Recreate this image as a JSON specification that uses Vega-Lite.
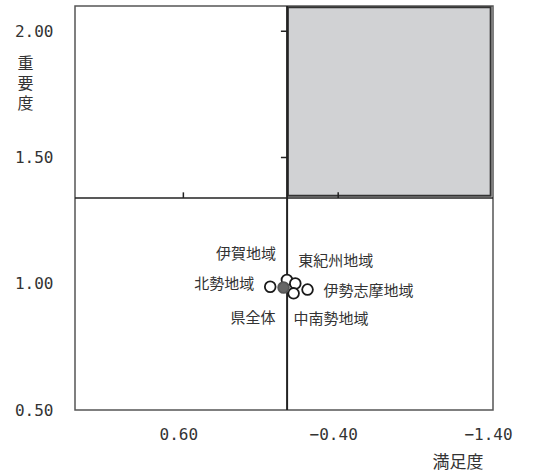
{
  "$schema": "https://vega.github.io/schema/vega-lite/v6.json",
  "width": 418,
  "height": 404,
  "autosize": {"type": "none"},
  "padding": {"left": 75, "top": 6, "right": 64, "bottom": 63},
  "background": "white",
  "config": {
    "view": {"stroke": "#555", "strokeWidth": 1.5},
    "font": "Noto Sans CJK JP"
  },
  "datasets": {
    "pts": [
      {"name": "北勢地域", "sat": 0.039, "imp": 0.988, "kind": "region"},
      {"name": "伊賀地域", "sat": -0.069, "imp": 1.015, "kind": "region"},
      {"name": "東紀州地域", "sat": -0.123, "imp": 1.001, "kind": "region"},
      {"name": "中南勢地域", "sat": -0.112, "imp": 0.962, "kind": "region"},
      {"name": "伊勢志摩地域", "sat": -0.202, "imp": 0.977, "kind": "region"},
      {"name": "県全体", "sat": -0.047, "imp": 0.985, "kind": "total"}
    ]
  },
  "layer": [
    {
      "data": {"values": [{"x1": -0.075, "x2": -1.385, "y1": 1.349, "y2": 2.095}]},
      "mark": {"type": "rect", "fill": "#d1d2d4", "stroke": "#333", "strokeWidth": 2},
      "encoding": {
        "x": {
          "field": "x1", "type": "quantitative",
          "scale": {"domain": [-1.4, 1.3], "reverse": true, "nice": false, "zero": false},
          "axis": {
            "values": [0.6, -0.4, -1.4], "format": ".2f",
            "ticks": false, "domain": false, "grid": false,
            "labelFont": "DejaVu Sans Mono", "labelFontSize": 16, "labelColor": "#333",
            "labelPadding": 16, "labelOffset": -5, "labelFlush": false, "labelOverlap": false, "labelBound": false,
            "title": "満足度", "titleFont": "Noto Sans CJK JP", "titleFontSize": 17, "titleFontWeight": "normal",
            "titleColor": "#333", "titleX": 408, "titleY": 61, "titleAlign": "right", "titleBaseline": "bottom", "titleAnchor": null
          }
        },
        "x2": {"field": "x2"},
        "y": {
          "field": "y1", "type": "quantitative",
          "scale": {"domain": [0.5, 2.1], "nice": false, "zero": false},
          "axis": {
            "values": [0.5, 1, 1.5, 2], "format": ".2f",
            "ticks": false, "domain": false, "grid": false,
            "labelFont": "DejaVu Sans Mono", "labelFontSize": 16, "labelColor": "#333",
            "labelPadding": 22, "labelFlush": false, "labelOverlap": false, "labelBound": false,
            "title": ["重", "要", "度"], "titleAngle": 0, "titleFont": "Noto Sans CJK JP", "titleFontSize": 16,
            "titleFontWeight": "normal", "titleColor": "#333", "titleX": -50, "titleY": 49,
            "titleAlign": "center", "titleBaseline": "top", "titleLineHeight": 20, "titleAnchor": null
          }
        },
        "y2": {"field": "y2"}
      }
    },
    {
      "data": {"values": [{"x": -0.07}]},
      "mark": {"type": "rule", "stroke": "#222", "strokeWidth": 2},
      "encoding": {"x": {"field": "x", "type": "quantitative"}}
    },
    {
      "data": {"values": [{"y": 1.34}]},
      "mark": {"type": "rule", "stroke": "#222", "strokeWidth": 1.5},
      "encoding": {"y": {"field": "y", "type": "quantitative"}}
    },
    {
      "data": {"values": [{"x": -0.07, "x2": -0.03, "y": 1.5}, {"x": -0.07, "x2": -0.03, "y": 2.0}]},
      "mark": {"type": "rule", "stroke": "#222", "strokeWidth": 1.5},
      "encoding": {
        "x": {"field": "x", "type": "quantitative"},
        "x2": {"field": "x2"},
        "y": {"field": "y", "type": "quantitative"}
      }
    },
    {
      "data": {"values": [{"x": 0.6, "y": 1.34, "y2": 1.362}, {"x": -0.4, "y": 1.34, "y2": 1.362}]},
      "mark": {"type": "rule", "stroke": "#222", "strokeWidth": 1.5},
      "encoding": {
        "x": {"field": "x", "type": "quantitative"},
        "y": {"field": "y", "type": "quantitative"},
        "y2": {"field": "y2"}
      }
    },
    {
      "data": {"name": "pts"},
      "mark": {"type": "point", "shape": "circle", "filled": false, "size": 115, "strokeWidth": 1.8, "stroke": "#1a1a1a", "opacity": 1},
      "encoding": {
        "x": {"field": "sat", "type": "quantitative"},
        "y": {"field": "imp", "type": "quantitative"},
        "fill": {"field": "kind", "type": "nominal", "scale": {"domain": ["region", "total"], "range": ["white", "#666666"]}, "legend": null},
        "stroke": {"field": "kind", "type": "nominal", "scale": {"domain": ["region", "total"], "range": ["#1a1a1a", "#555555"]}, "legend": null},
        "order": {"field": "kind", "type": "nominal"}
      }
    },
    {
      "data": {"name": "pts"},
      "transform": [{"filter": "datum.name == '伊賀地域'"}],
      "mark": {"type": "text", "align": "right", "baseline": "middle", "dx": -11, "dy": -26, "fontSize": 15, "color": "#333"},
      "encoding": {"x": {"field": "sat", "type": "quantitative"}, "y": {"field": "imp", "type": "quantitative"}, "text": {"field": "name"}}
    },
    {
      "data": {"name": "pts"},
      "transform": [{"filter": "datum.name == '東紀州地域'"}],
      "mark": {"type": "text", "align": "left", "baseline": "middle", "dx": 3, "dy": -22, "fontSize": 15, "color": "#333"},
      "encoding": {"x": {"field": "sat", "type": "quantitative"}, "y": {"field": "imp", "type": "quantitative"}, "text": {"field": "name"}}
    },
    {
      "data": {"name": "pts"},
      "transform": [{"filter": "datum.name == '北勢地域'"}],
      "mark": {"type": "text", "align": "right", "baseline": "middle", "dx": -16, "dy": -3, "fontSize": 15, "color": "#333"},
      "encoding": {"x": {"field": "sat", "type": "quantitative"}, "y": {"field": "imp", "type": "quantitative"}, "text": {"field": "name"}}
    },
    {
      "data": {"name": "pts"},
      "transform": [{"filter": "datum.name == '伊勢志摩地域'"}],
      "mark": {"type": "text", "align": "left", "baseline": "middle", "dx": 16, "dy": 1, "fontSize": 15, "color": "#333"},
      "encoding": {"x": {"field": "sat", "type": "quantitative"}, "y": {"field": "imp", "type": "quantitative"}, "text": {"field": "name"}}
    },
    {
      "data": {"name": "pts"},
      "transform": [{"filter": "datum.name == '県全体'"}],
      "mark": {"type": "text", "align": "right", "baseline": "middle", "dx": -8, "dy": 30, "fontSize": 15, "color": "#333"},
      "encoding": {"x": {"field": "sat", "type": "quantitative"}, "y": {"field": "imp", "type": "quantitative"}, "text": {"field": "name"}}
    },
    {
      "data": {"name": "pts"},
      "transform": [{"filter": "datum.name == '中南勢地域'"}],
      "mark": {"type": "text", "align": "left", "baseline": "middle", "dx": 0, "dy": 26, "fontSize": 15, "color": "#333"},
      "encoding": {"x": {"field": "sat", "type": "quantitative"}, "y": {"field": "imp", "type": "quantitative"}, "text": {"field": "name"}}
    }
  ]
}
